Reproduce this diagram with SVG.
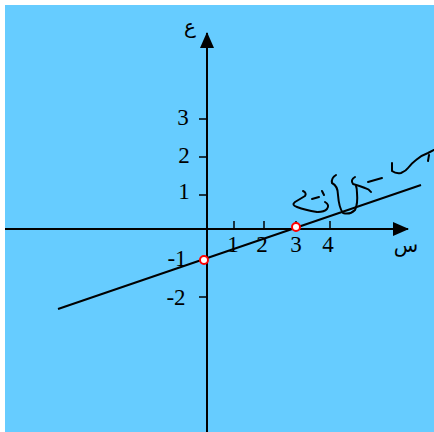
<svg xmlns="http://www.w3.org/2000/svg" width="434" height="432" viewBox="0 0 434 432">
<defs>
<style>
.ax{stroke:#000;stroke-width:2;fill:none}
.tk{stroke:#000;stroke-width:1.5}
.lb{font-family:"Liberation Serif","DejaVu Serif",serif;font-size:23px;fill:#000}
.ar{font-family:"DejaVu Sans","Noto Sans",sans-serif;font-size:20px;fill:#000}
.ink{stroke:#000;stroke-width:2;fill:none;stroke-linecap:round;stroke-linejoin:round}
.pt{fill:#fff;stroke:#f00;stroke-width:2}
</style>
<marker id="ah" markerWidth="16" markerHeight="14" refX="15" refY="7" orient="auto" markerUnits="userSpaceOnUse">
<path d="M0,0 L16,7 L0,14 Z" fill="#000"/>
</marker>
</defs>
<rect x="0" y="0" width="434" height="432" fill="#fff"/>
<rect x="5" y="5" width="429" height="427" fill="#66CCFF"/>
<g id="connectors">
<line class="ax" x1="5" y1="229" x2="408" y2="229" marker-end="url(#ah)"/>
<line class="ax" x1="207" y1="432" x2="207" y2="33" marker-end="url(#ah)"/>
<line class="ax" x1="58" y1="309" x2="421" y2="185"/>
</g>
<g id="ticks">
<line class="tk" x1="234" y1="221" x2="234" y2="229"/>
<line class="tk" x1="264" y1="221" x2="264" y2="229"/>
<line class="tk" x1="296" y1="221" x2="296" y2="229"/>
<line class="tk" x1="330" y1="221" x2="330" y2="229"/>
<line class="tk" x1="199" y1="119" x2="207" y2="119"/>
<line class="tk" x1="199" y1="157" x2="207" y2="157"/>
<line class="tk" x1="199" y1="195" x2="207" y2="195"/>
<line class="tk" x1="199" y1="297" x2="207" y2="297"/>
</g>
<g id="labels">
<text class="lb" x="233" y="252" text-anchor="middle">1</text>
<text class="lb" x="262" y="252" text-anchor="middle">2</text>
<text class="lb" x="296" y="252" text-anchor="middle">3</text>
<text class="lb" x="328" y="252" text-anchor="middle">4</text>
<text class="lb" x="183" y="125" text-anchor="middle">3</text>
<text class="lb" x="184" y="163" text-anchor="middle">2</text>
<text class="lb" x="184" y="199" text-anchor="middle">1</text>
<text class="lb" x="177" y="266" text-anchor="middle">-1</text>
<text class="lb" x="176" y="305" text-anchor="middle">-2</text>
<text class="ar" x="190" y="33" text-anchor="middle">ع</text>
<text class="ar" x="406" y="252" text-anchor="middle">س</text>
</g>
<g id="handwriting">
<path class="ink" d="M303,191 Q307,193 305,196 Q300,199 295,202 Q291,205 297,207 Q305,210 317,212"/>
<path class="ink" d="M312,199 L319,197"/>
<path class="ink" d="M322,191 L324,195"/>
<path class="ink" d="M325,202 Q330,205 327,209 Q324,212 318,212"/>
<path class="ink" d="M336,175 Q331,178 332,183 Q338,186 338,195 Q339,208 343,213 Q350,215 355,210 Q358,204 357,193 Q357,188 356,186"/>
<path class="ink" d="M355,177 Q350,180 353,184 Q360,186 365,188 Q369,189 371,192"/>
<path class="ink" d="M368,182 L382,178"/>
<path class="ink" d="M392,163 L392,171 Q396,174 401,173 Q406,171 408,168 Q412,163 416,160 Q422,155 428,153 L434,150"/>
<path class="ink" d="M429,155 L428,161"/>
</g>
<g id="point-y">
<circle class="pt" cx="204" cy="260" r="4"/>
</g>
<g id="point-x">
<circle class="pt" cx="296" cy="227" r="4"/>
</g>
</svg>
